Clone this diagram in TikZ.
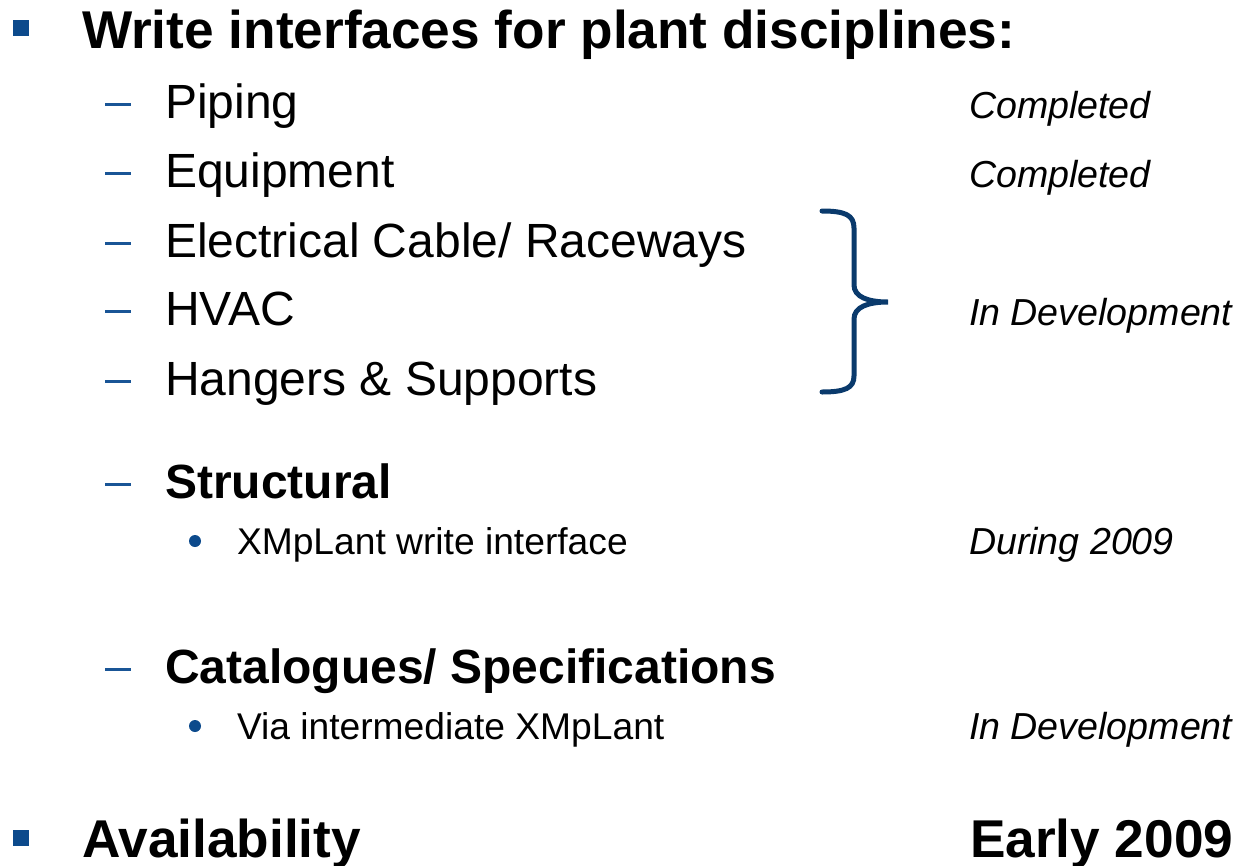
\documentclass[tikz,border=0pt]{standalone}
\usepackage{fontspec}
\setmainfont{Liberation Sans}
\definecolor{bulletblue}{RGB}{12,74,140}
\definecolor{dashblue}{RGB}{25,85,150}
\definecolor{bracenavy}{RGB}{10,58,108}
\begin{document}
\begin{tikzpicture}[x=1pt,y=-1pt,
  txt/.style={anchor=base west,inner sep=0pt,outer sep=0pt,text=black},
  big/.style={txt,font=\fontsize{53.2}{60}\selectfont\bfseries},
  mid/.style={txt,font=\fontsize{48}{54}\selectfont},
  midb/.style={txt,font=\fontsize{48}{54}\selectfont\bfseries},
  small/.style={txt,font=\fontsize{37.2}{44}\selectfont},
  status/.style={txt,font=\fontsize{37.6}{44}\selectfont\itshape},
  sqbullet/.style={fill=bulletblue,draw=none},
  dashmark/.style={draw=dashblue,line width=3pt},
  dotbullet/.style={fill=bulletblue,draw=none}]
\useasboundingbox (0,0) rectangle (1237,865);
% level 1
\fill[sqbullet] (13,20) rectangle (29,36);
\node[big] (title) at (82,48) {Write interfaces for plant disciplines:};
% level 2 items
\foreach \y in {118,187,257,325,395,498,683}
  \draw[dashmark] (105,\y-14) -- (131,\y-14);
\node[mid] (piping) at (165,118) {Piping};
\node[mid] (equip) at (165,187) {Equipment};
\node[mid] (elec) at (165,257) {Electrical Cable/ Raceways};
\node[mid] (hvac) at (165,325) {HVAC};
\node[mid] (hang) at (165,395) {Hangers \& Supports};
\node[midb] (struct) at (165,498) {Structural};
\node[midb] (cat) at (165,683) {Catalogues/ Specifications};
% level 3
\fill[dotbullet] (195,541) circle (6);
\node[small] (xmp) at (237,554) {XMpLant write interface};
\fill[dotbullet] (195,726) circle (6);
\node[small] (via) at (237,739) {Via intermediate XMpLant};
% status column
\node[status] (s1) at (969,118) {Completed};
\node[status] (s2) at (969,187) {Completed};
\node[status] (s3) at (969,325) {In Development};
\node[status] (s4) at (969,554) {During 2009};
\node[status] (s5) at (969,739) {In Development};
% brace
\draw[bracenavy,line width=5pt,line cap=round]
  (822,211) .. controls (845,211) and (854,215) .. (854,228)
  -- (854,285) .. controls (854,297) and (868,302) .. (888,302)
  .. controls (868,302) and (854,307) .. (854,319)
  -- (854,376) .. controls (854,388) and (845,392) .. (822,392);
% availability
\fill[sqbullet] (13,830) rectangle (29,846);
\node[big] (avail) at (82,857) {Availability};
\node[big] (early) at (970,857) {Early 2009};
\end{tikzpicture}
\end{document}
